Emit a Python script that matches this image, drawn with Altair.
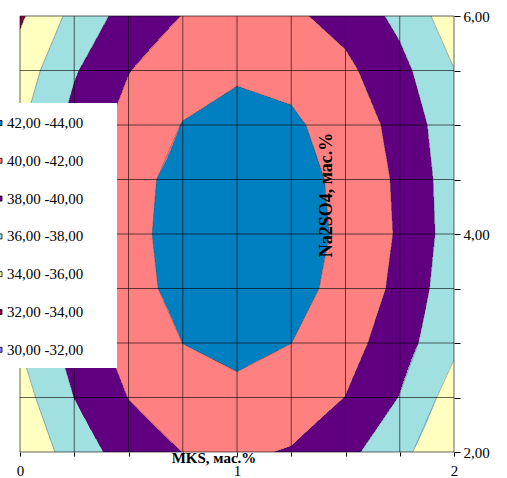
import numpy as np
import pandas as pd
import altair as alt

# ---- data ----
mks = [0.0, 0.25, 0.5, 0.75, 1.0, 1.25, 1.5, 1.75, 2.0]          # x grid, MKS, мас.%
na2so4 = [2.0, 2.5, 3.0, 3.5, 4.0, 4.5, 5.0, 5.5, 6.0]           # y grid, Na2SO4, мас.%
z_rows = [  # one row per Na2SO4 value, one column per MKS value
    [34.25, 36.97, 38.89, 40.02, 40.33, 39.85, 38.57, 36.54, 34.30],
    [35.19, 38.02, 40.04, 41.24, 41.63, 41.21, 39.97, 37.93, 35.10],
    [36.06, 38.84, 40.82, 42.01, 42.41, 42.01, 40.82, 38.84, 36.40],
    [36.41, 39.23, 41.40, 42.50, 42.94, 42.59, 41.44, 39.50, 36.77],
    [36.43, 39.29, 41.52, 42.62, 43.10, 42.78, 41.67, 39.76, 37.06],
    [36.33, 39.19, 41.44, 42.52, 43.00, 42.68, 41.57, 39.66, 36.96],
    [35.75, 38.65, 40.75, 42.06, 42.57, 42.29, 41.22, 39.35, 36.69],
    [34.91, 37.82, 39.93, 41.25, 41.77, 41.50, 40.44, 38.58, 36.05],
    [33.70, 36.60, 38.80, 40.05, 40.57, 40.34, 39.30, 37.50, 34.90],
]
band_lows = [42, 40, 38, 36, 34, 32, 30]
band_labels = ["42,00 -44,00", "40,00 -42,00", "38,00 -40,00", "36,00 -38,00",
               "34,00 -36,00", "32,00 -34,00", "30,00 -32,00"]
band_colors = ["#0080C0", "#FF8080", "#600080", "#A0E0E0", "#FFFFC0", "#800040", "#8080FF"]
x_ticks = mks
y_ticks = na2so4
x_title = "MKS, мас.%"
y_title = "Na2SO4, мас.%"

# ---- derived: filled bands by scanline runs (bilinear within grid cells) ----
Z = np.array(z_rows)
low_to_label = dict(zip(band_lows, band_labels))
ny, nx = 436, 868
ye = np.linspace(na2so4[0], na2so4[-1], ny + 1)
xe = np.linspace(mks[0], mks[-1], nx + 1)
xc = (xe[:-1] + xe[1:]) / 2
recs = []
for k in range(ny):
    yc = (ye[k] + ye[k + 1]) / 2
    zc = [np.interp(yc, na2so4, Z[:, i]) for i in range(len(mks))]
    zx = np.interp(xc, mks, zc)
    lows = np.clip((np.floor((zx - 30) / 2) * 2 + 30).astype(int), 30, 42)
    start = 0
    for m in range(1, nx + 1):
        if m == nx or lows[m] != lows[start]:
            recs.append({"x": xe[start], "x2": xe[m], "y": ye[k],
                         "y2": min(ye[k + 1] + 0.004, na2so4[-1]),
                         "band": low_to_label[int(lows[start])]})
            start = m
fill_df = pd.DataFrame(recs)

# ---- derived: contour outlines (marching squares on the grid) ----
segs = []
for j in range(len(na2so4) - 1):
    for i in range(len(mks) - 1):
        x0, x1, y0, y1 = mks[i], mks[i + 1], na2so4[j], na2so4[j + 1]
        a, b, c, d = Z[j, i], Z[j, i + 1], Z[j + 1, i + 1], Z[j + 1, i]
        edges = [((x0, y0, a), (x1, y0, b)), ((x1, y0, b), (x1, y1, c)),
                 ((x1, y1, c), (x0, y1, d)), ((x0, y1, d), (x0, y0, a))]
        for L in [34, 36, 38, 40, 42]:
            pts = []
            for (px, py, pv), (qx, qy, qv) in edges:
                if (pv - L) * (qv - L) < 0:
                    t = (L - pv) / (qv - pv)
                    pts.append((px + t * (qx - px), py + t * (qy - py)))
            for s in range(0, len(pts) - 1, 2):
                segs.append({"x": pts[s][0], "y": pts[s][1], "x2": pts[s + 1][0], "y2": pts[s + 1][1]})
seg_df = pd.DataFrame(segs)

FONT = "Liberation Serif"
xs = alt.Scale(domain=[mks[0], mks[-1]], nice=False, zero=False)
ys = alt.Scale(domain=[na2so4[0], na2so4[-1]], nice=False, zero=False)

x_axis = alt.Axis(values=x_ticks, grid=False, domain=False, tickSize=4, tickColor="black",
                  labelExpr="(datum.value == 0 || datum.value == 1 || datum.value == 2) ? format(datum.value, 'd') : ''",
                  labelFont=FONT, labelFontSize=15, labelColor="black", labelPadding=7,
                  labelOverlap=False, labelFlush=False, title=None)
y_axis = alt.Axis(orient="right", values=y_ticks, grid=False, domain=False, tickSize=6, tickColor="black",
                  labelExpr="(datum.value % 2 == 0) ? replace(format(datum.value, '.2f'), '.', ',') : ''",
                  labelFont=FONT, labelFontSize=15, labelColor="black", labelPadding=3,
                  labelOverlap=False, labelFlush=False, title=None)

fill = alt.Chart(fill_df).mark_rect(strokeWidth=0).encode(
    x=alt.X("x:Q", scale=xs, axis=x_axis), x2="x2:Q",
    y=alt.Y("y:Q", scale=ys, axis=y_axis), y2="y2:Q",
    color=alt.Color("band:N", scale=alt.Scale(domain=band_labels, range=band_colors),
                    legend=alt.Legend(orient="none", legendX=-28, legendY=99.5, title=None,
                                      symbolType="square", symbolSize=25, symbolStrokeColor="#000",
                                      symbolStrokeWidth=0.8, labelFont=FONT, labelFontSize=15,
                                      labelColor="black", rowPadding=21.8, labelOffset=0,
                                      padding=0, symbolOpacity=1)),
)

outline = alt.Chart(seg_df).mark_rule(color="#303030", strokeWidth=0.7, opacity=0.5).encode(
    x=alt.X("x:Q", scale=xs, axis=x_axis), y=alt.Y("y:Q", scale=ys, axis=y_axis),
    x2="x2:Q", y2="y2:Q")

gx = alt.Chart(pd.DataFrame({"x": x_ticks})).mark_rule(color="black", opacity=0.6, strokeWidth=1).encode(
    x=alt.X("x:Q", scale=xs, axis=x_axis))
gy = alt.Chart(pd.DataFrame({"y": y_ticks})).mark_rule(color="black", opacity=0.6, strokeWidth=1).encode(
    y=alt.Y("y:Q", scale=ys, axis=y_axis))

box = alt.Chart(pd.DataFrame({"a": [0]})).mark_rect(color="white").encode(
    x=alt.value(-20), x2=alt.value(97), y=alt.value(87), y2=alt.value(352))

t_x = alt.Chart(pd.DataFrame({"t": [x_title]})).mark_text(
    font=FONT, fontSize=15, fontWeight="bold", color="black", align="center", baseline="middle").encode(
    x=alt.value(194), y=alt.value(442), text="t:N")
t_y = alt.Chart(pd.DataFrame({"t": [y_title]})).mark_text(
    font=FONT, fontSize=18, fontWeight="bold", color="black", align="center", baseline="middle", angle=270).encode(
    x=alt.value(307), y=alt.value(179), text="t:N")

chart = alt.layer(fill, outline, gx, gy, box, t_x, t_y).properties(
    width=434, height=436,
    autosize=alt.AutoSizeParams(type="none"),
    padding={"left": 20, "top": 16, "right": 53, "bottom": 26},
    background="white",
).configure_view(stroke=None)

chart.save("out.html", embed_options={"renderer": "svg", "actions": False})
